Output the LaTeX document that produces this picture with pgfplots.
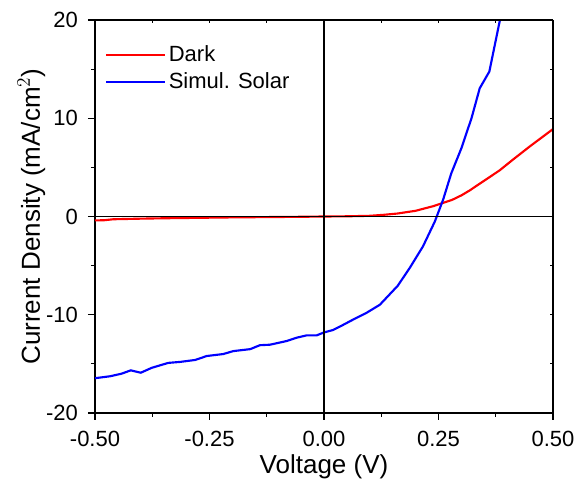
\documentclass[border=0pt]{standalone}
\usepackage{fontspec}
\setmainfont{Liberation Sans}
\usepackage{pgfplots}
\pgfplotsset{compat=1.18}
\begin{document}
\begin{tikzpicture}
\begin{axis}[
  name=ax, at={(0,0)}, anchor=south west,
  scale only axis, width=343.5pt, height=294.75pt,
  xmin=-0.5, xmax=0.5, ymin=-20, ymax=20,
  axis x line*=bottom, axis y line*=left,
  axis line style={line width=0.8pt, -},
  tick align=outside,
  xtick={-0.5,-0.25,0,0.25,0.5},
  ytick={-20,-10,0,10,20},
  minor xtick={-0.375,-0.125,0.125,0.375},
  minor ytick={-15,-5,5,15},
  major tick length=5.25pt, minor tick length=3pt,
  every tick/.style={line width=0.8pt, black},
  /pgf/number format/assume math mode=true,
  xticklabel={\pgfmathprintnumber[fixed,fixed zerofill,precision=2]{\tick}},
  yticklabel={\pgfmathprintnumber[fixed]{\tick}},
  ticklabel style={font=\fontsize{16.5}{18}\selectfont},
  xticklabel style={anchor=base, yshift=-20pt},
  yticklabel style={anchor=east, xshift=-4pt},
  xlabel={Voltage (V)},
  ylabel={Current Density (mA/cm$^2$)},
  every axis x label/.style={at={(axis description cs:0.5,-0.1527)}, anchor=base, font=\fontsize{19.5}{22}\selectfont},
  every axis y label/.style={at={(axis description cs:-0.1201,0.5)}, rotate=90, anchor=base, font=\fontsize{19.5}{22}\selectfont},
  legend style={at={(axis description cs:0.022,0.942)}, anchor=north west, draw=none, fill=none,
    font=\fontsize{16.5}{18}\selectfont, row sep=2.8pt, inner sep=0pt,
    nodes={inner sep=2pt}},
  legend image code/.code={\draw[#1] (0pt,0pt) -- (44pt,0pt);},
  legend cell align=left,
  clip=true,
]
\addplot[red, line width=1.6pt] coordinates {
(-0.50,-0.40) (-0.48,-0.38) (-0.46,-0.28) (-0.44,-0.26) (-0.40,-0.22) (-0.35,-0.18)
(-0.30,-0.15) (-0.25,-0.12) (-0.20,-0.09) (-0.15,-0.07) (-0.10,-0.05) (-0.05,-0.03)
(0.00,0.00) (0.05,0.02) (0.10,0.07) (0.13,0.17) (0.16,0.30) (0.20,0.58) (0.24,1.07)
(0.28,1.70) (0.30,2.15) (0.318,2.65) (0.347,3.56) (0.383,4.68) (0.412,5.77) (0.449,7.12)
(0.50,8.9)};
\addlegendentry{Dark}
\addplot[blue, line width=1.6pt] coordinates {
(-0.50,-16.46) (-0.467,-16.26) (-0.442,-16.0) (-0.422,-15.66) (-0.40,-15.9) (-0.376,-15.4)
(-0.34,-14.9) (-0.314,-14.8) (-0.281,-14.6) (-0.256,-14.2) (-0.22,-14.0) (-0.198,-13.7)
(-0.161,-13.5) (-0.14,-13.1) (-0.118,-13.05) (-0.081,-12.67) (-0.06,-12.34) (-0.038,-12.1)
(-0.016,-12.1) (0.0,-11.8) (0.02,-11.55) (0.035,-11.2) (0.06,-10.58) (0.092,-9.83)
(0.122,-8.98) (0.161,-7.05) (0.187,-5.25) (0.216,-3.05) (0.242,-0.51) (0.26,1.70)
(0.278,4.41) (0.30,6.95) (0.322,10.0) (0.34,13.05) (0.361,14.75) (0.385,20.2) (0.39,21.5)};
\addlegendentry{Simul. Solar}
\draw[black, line width=0.8pt] (axis cs:0,-20) -- (axis cs:0,20);
\draw[black, line width=0.8pt] (axis cs:-0.5,0) -- (axis cs:0.5,0);
\end{axis}
\begin{axis}[
  at={(0,0)}, anchor=south west,
  scale only axis, width=343.5pt, height=294.75pt,
  xmin=-0.5, xmax=0.5, ymin=-20, ymax=20,
  axis x line*=top, axis y line*=right,
  axis line style={line width=0.8pt, -},
  tick align=inside,
  xtick={-0.5,-0.25,0,0.25,0.5},
  ytick={-20,-10,0,10,20},
  minor xtick={-0.375,-0.125,0.125,0.375},
  minor ytick={-15,-5,5,15},
  major tick length=2pt, minor tick length=2pt,
  every tick/.style={line width=0.8pt, black},
  xticklabels={}, yticklabels={},
]
\end{axis}
\pgfresetboundingbox
\path[use as bounding box] (-71.25pt,-51pt) rectangle (360.75pt,309.75pt);
\end{tikzpicture}
\end{document}
